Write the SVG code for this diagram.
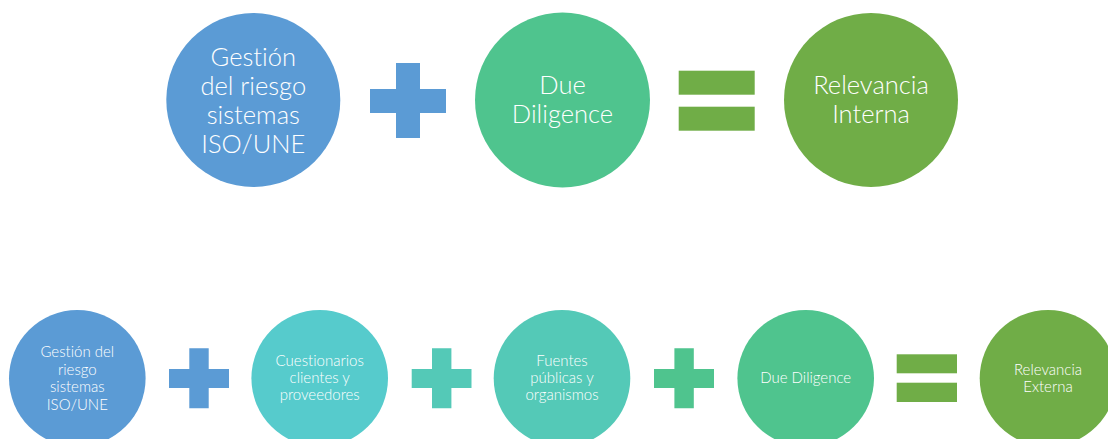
<svg xmlns="http://www.w3.org/2000/svg" width="1108" height="439" viewBox="0 0 1108 439">
<style>
.t{font-family:Lato,"Liberation Sans",sans-serif;font-variant-ligatures:none;fill:#fff;text-anchor:middle;font-weight:300}
.big{font-size:25.5px}
.sm{font-size:15px}
.blue{fill:#5B9BD5}
.cyan{fill:#56CBCC}
.teal{fill:#54C9B7}
.mint{fill:#4FC48E}
.green{fill:#70AD47}
</style>
<rect width="1108" height="439" fill="#fff"/>
<g id="top-row">
<g id="n1-gestion">
<circle class="blue" cx="253.3" cy="100" r="87"/>
<text class="t big" x="253.3" y="65.7">Gestión</text>
<text class="t big" x="253.3" y="94.7">del riesgo</text>
<text class="t big" x="253.3" y="123.7">sistemas</text>
<text class="t big" x="253.3" y="152.7">ISO/UNE</text>
</g>
<g id="op-plus-1">
<path class="blue" d="M396 63H420V89H446V113H420V138H396V113H370V89H396Z"/>
</g>
<g id="n2-due">
<circle class="mint" cx="562.5" cy="100" r="87.5"/>
<text class="t big" x="562.5" y="94">Due</text>
<text class="t big" x="562.5" y="123.3">Diligence</text>
</g>
<g id="op-equals-1">
<rect class="green" x="678.7" y="70.7" width="76" height="24"/>
<rect class="green" x="678.7" y="106.7" width="76" height="24"/>
</g>
<g id="n3-relevancia-interna">
<circle class="green" cx="871" cy="100" r="87"/>
<text class="t big" x="871" y="94">Relevancia</text>
<text class="t big" x="871" y="123">Interna</text>
</g>
</g>
<g id="bottom-row">
<g id="b1-gestion">
<circle class="blue" cx="77.3" cy="378.3" r="68.3"/>
<text class="t sm" x="77.3" y="357">Gestión del</text>
<text class="t sm" x="77.3" y="374.6">riesgo</text>
<text class="t sm" x="77.3" y="392.2">sistemas</text>
<text class="t sm" x="77.3" y="409.8">ISO/UNE</text>
</g>
<g id="op-plus-2">
<path class="blue" d="M189.3 348.3H208.7V369H229V388H208.7V408.3H189.3V388H169V369H189.3Z"/>
</g>
<g id="b2-cuestionarios">
<circle class="cyan" cx="319.7" cy="378.3" r="68.3"/>
<text class="t sm" x="319.7" y="366">Cuestionarios</text>
<text class="t sm" x="319.7" y="383">clientes y</text>
<text class="t sm" x="319.7" y="400">proveedores</text>
</g>
<g id="op-plus-3">
<path class="teal" d="M432 348.3H451.4V369H471.5V388H451.4V408.3H432V388H411.7V369H432Z"/>
</g>
<g id="b3-fuentes">
<circle class="teal" cx="562" cy="378.3" r="68.3"/>
<text class="t sm" x="562" y="366">Fuentes</text>
<text class="t sm" x="562" y="383">públicas y</text>
<text class="t sm" x="562" y="400">organismos</text>
</g>
<g id="op-plus-4">
<path class="mint" d="M674.4 348.3H693.8V369H714V388H693.8V408.3H674.4V388H654V369H674.4Z"/>
</g>
<g id="b4-due">
<circle class="mint" cx="805.7" cy="378.3" r="68.3"/>
<text class="t sm" x="805.7" y="383">Due Diligence</text>
</g>
<g id="op-equals-2">
<rect class="green" x="896.7" y="354.3" width="60.3" height="19"/>
<rect class="green" x="896.7" y="382.7" width="60.3" height="19.3"/>
</g>
<g id="b5-relevancia-externa">
<circle class="green" cx="1048" cy="378.3" r="68.3"/>
<text class="t sm" x="1048" y="375.3">Relevancia</text>
<text class="t sm" x="1048" y="391.7">Externa</text>
</g>
</g>
<g id="connectors"/>
</svg>
